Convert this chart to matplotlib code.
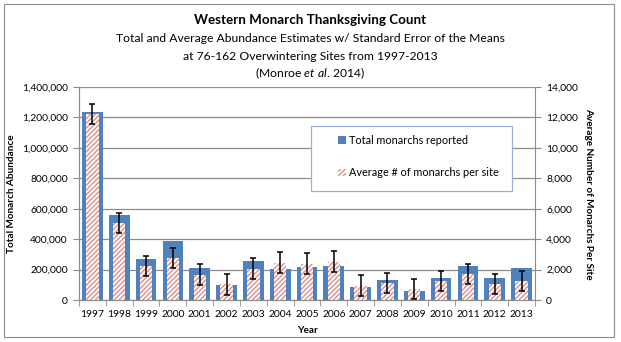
import matplotlib.pyplot as plt
from matplotlib.patches import Patch, Rectangle
from matplotlib.ticker import FuncFormatter
import numpy as np

# ---- data ----
years = ["1997", "1998", "1999", "2000", "2001", "2002", "2003", "2004", "2005",
         "2006", "2007", "2008", "2009", "2010", "2011", "2012", "2013"]
total_monarchs = [1235000, 560000, 267000, 390000, 208000, 100000, 254000, 203000,
                  217000, 221000, 85000, 131000, 59000, 142000, 223000, 144000, 212000]
avg_per_site = [12200, 5080, 2260, 2780, 1660, 1030, 2060, 2460, 2380,
                2530, 940, 1120, 740, 1260, 1710, 1040, 1270]
avg_se = [660, 650, 650, 650, 680, 700, 680, 670, 680,
          670, 680, 670, 670, 650, 670, 670, 650]

plt.rcParams["font.family"] = ["Lato", "DejaVu Sans"]
plt.rcParams["mathtext.fontset"] = "custom"
plt.rcParams["mathtext.rm"] = "Lato"
plt.rcParams["mathtext.it"] = "Lato:italic"

W, H = 621, 342
GREY = "#8c8c8c"
fig = plt.figure(figsize=(W / 100, H / 100), dpi=100)
fig.patch.set_facecolor("white")

# outer chart border
fig.add_artist(Rectangle((4 / W, 5 / H), (614 - 4) / W, (338 - 5) / H,
                         transform=fig.transFigure, fill=False,
                         edgecolor=GREY, linewidth=0.8))

# plot area in pixels: x 79..535, y 87..300
ax = fig.add_axes([79 / W, (H - 300) / H, 456 / W, 213 / H])
ax2 = ax.twinx()

x = np.arange(len(years))
ax.bar(x, total_monarchs, width=0.77, color="#4F81BD", zorder=2)
ax2.bar(x, avg_per_site, width=0.46, facecolor="white", edgecolor="#DE8E8B",
        hatch="///////", linewidth=0, zorder=2)
ax2.errorbar(x, avg_per_site, yerr=avg_se, fmt="none", ecolor="black",
             elinewidth=1.1, capsize=2.5, capthick=1.1, zorder=3)

ax.set_xlim(-0.5, len(years) - 0.5)
ax.set_ylim(0, 1400000)
ax2.set_ylim(0, 14000)
ax.set_yticks(np.arange(0, 1400001, 200000))
ax2.set_yticks(np.arange(0, 14001, 2000))
ax.yaxis.set_major_formatter(FuncFormatter(lambda v, p: f"{int(v):,}"))
ax2.yaxis.set_major_formatter(FuncFormatter(lambda v, p: f"{int(v):,}"))

ax.grid(axis="y", color=GREY, linewidth=0.9, zorder=0)
ax.set_axisbelow(True)

ax.set_xticks(x)
ax.set_xticklabels(years, fontsize=7.4)
ax.set_xticks(np.arange(-0.5, len(years)), minor=True)
ax.tick_params(axis="x", which="major", length=0, pad=7)
ax.tick_params(axis="x", which="minor", length=4, color=GREY, direction="out")
ax.tick_params(axis="y", labelsize=7.4, length=4, color=GREY, pad=4)
ax2.tick_params(axis="y", labelsize=7.4, length=4, color=GREY, pad=4)

for a in (ax, ax2):
    a.spines["top"].set_visible(False)
    for s in ("left", "right", "bottom"):
        a.spines[s].set_color(GREY)
ax.spines["right"].set_visible(False)

ax.set_xlabel("Year", fontsize=7.2, fontweight="bold", labelpad=5)
ax.set_ylabel("Total Monarch Abundance", fontsize=7.2, fontweight="bold")
ax.yaxis.set_label_coords(-63 / 456, 0.5)
ax2.set_ylabel("Average Number of Monarchs Per Site", fontsize=7.2,
               fontweight="bold", rotation=270, labelpad=11)

# titles
fig.text(0.5, 1 - 20 / H, "Western Monarch Thanksgiving Count", ha="center",
         va="center", fontsize=9.6, fontweight="bold")
fig.text(0.5, 1 - 39 / H, "Total and Average Abundance Estimates w/ Standard Error of the Means",
         ha="center", va="center", fontsize=8.7)
fig.text(0.5, 1 - 56 / H, "at 76-162 Overwintering Sites from 1997-2013",
         ha="center", va="center", fontsize=8.7)
fig.text(0.5, 1 - 73 / H, r"(Monroe $\it{et\ al.}\,$2014)",
         ha="center", va="center", fontsize=8.7)

# legend box (frame drawn separately so it matches the reference size)
fig.add_artist(Rectangle((311 / W, 1 - 191 / H), 201 / W, 65 / H,
                         transform=fig.transFigure, facecolor="white",
                         edgecolor="#95B3D7", linewidth=0.9, zorder=4))
handles = [Patch(facecolor="#4F81BD", edgecolor="none", label="Total monarchs reported"),
           Patch(facecolor="white", edgecolor="#DE8E8B", hatch="///////", linewidth=0,
                 label="Average # of monarchs per site")]
leg = fig.legend(handles=handles, loc="upper left",
                 bbox_to_anchor=(338 / W, 1 - 135 / H),
                 fontsize=7.8, frameon=False,
                 handlelength=0.7, handleheight=0.7, handletextpad=0.3,
                 labelspacing=1.95, borderpad=0, borderaxespad=0)
leg.set_zorder(5)

fig.savefig("out.png", dpi=100, facecolor="white")
